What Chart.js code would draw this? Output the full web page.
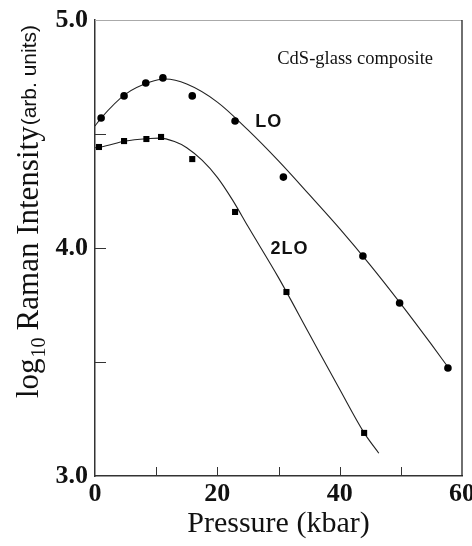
<!DOCTYPE html>
<html>
<head>
<meta charset="utf-8">
<script src="https://cdn.jsdelivr.net/npm/chart.js@4/dist/chart.umd.min.js"></script>
<style>
  body { margin: 0; background: #fff; }
  #wrap { width: 472px; height: 546px; position: relative; }
</style>
</head>
<body>
<div id="wrap"><canvas id="chartRaman"></canvas></div>
<script>
// Data titik LO (lingkaran)
var pressureLO = [1.0, 4.75, 8.3, 11.1, 15.9, 22.9, 30.8, 43.8, 49.8, 57.7];
var intensityLO = [4.57, 4.667, 4.724, 4.746, 4.667, 4.557, 4.311, 3.965, 3.759, 3.474];

// Data titik 2LO (kotak)
var pressure2LO = [0.65, 4.75, 8.4, 10.8, 15.9, 22.9, 31.3, 44.0];
var intensity2LO = [4.443, 4.469, 4.478, 4.487, 4.390, 4.158, 3.807, 3.189];

// Kurva fit
var fitLOx = [0, 1, 5, 9, 11.5, 15, 20, 25, 30, 35, 40, 45, 50, 55, 57.7];
var fitLOy = [4.535, 4.57, 4.675, 4.728, 4.741, 4.719, 4.64, 4.518, 4.382, 4.235, 4.085, 3.925, 3.755, 3.577, 3.478];
var fit2LOx = [0, 1, 5, 9, 10.5, 13, 15, 17.5, 20, 22.5, 25, 30, 35, 40, 44, 46.4];
var fit2LOy = [4.44, 4.443, 4.469, 4.48, 4.482, 4.467, 4.44, 4.385, 4.31, 4.21, 4.095, 3.87, 3.625, 3.38, 3.189, 3.10];

// Tick
var xTickLabels = [0, 20, 40, 60];
var yTickLabels = [3, 4, 5];
var xTickMarks = [10, 20, 30, 40, 50];
var yTickMarks = [3.5, 4.0, 4.5];

// Label di dalam grafik
var annotations = [
    { text: 'CdS-glass composite', x: 29.8, y: 4.829 },
    { text: 'LO', x: 28.4, y: 4.553 },
    { text: '2LO', x: 31.8, y: 3.996 }
];

function toPoints(xs, ys) {
    return xs.map(function (x, i) { return { x: x, y: ys[i] }; });
}

var serif = '"Liberation Serif", "Times New Roman", serif';
var sans = '"Liberation Sans", Arial, sans-serif';

var extrasPlugin = {
    id: 'extras',
    afterDraw: function (chart) {
        var ctx = chart.ctx;
        var a = chart.chartArea;
        var xs = chart.scales.x, ys = chart.scales.y;
        ctx.save();

        // garis atas dan kanan
        ctx.lineWidth = 1;
        ctx.strokeStyle = '#aaa';
        ctx.beginPath(); ctx.moveTo(a.left, a.top + 0.5); ctx.lineTo(a.right, a.top + 0.5); ctx.stroke();
        ctx.strokeStyle = '#222';
        ctx.lineWidth = 1.3;
        ctx.beginPath(); ctx.moveTo(a.right, a.top); ctx.lineTo(a.right, a.bottom); ctx.stroke();

        // tick ke dalam
        ctx.strokeStyle = '#333';
        ctx.lineWidth = 1;
        xTickMarks.forEach(function (v) {
            var px = Math.round(xs.getPixelForValue(v)) + 0.5;
            ctx.beginPath(); ctx.moveTo(px, a.bottom); ctx.lineTo(px, a.bottom - 9); ctx.stroke();
        });
        yTickMarks.forEach(function (v) {
            var py = Math.round(ys.getPixelForValue(v)) + 0.5;
            ctx.beginPath(); ctx.moveTo(a.left, py); ctx.lineTo(a.left + 11, py); ctx.stroke();
        });

        // label dalam grafik
        ctx.fillStyle = '#111';
        ctx.textBaseline = 'middle';
        ctx.textAlign = 'left';
        ctx.font = '18.5px ' + serif;
        var c = annotations[0];
        ctx.fillText(c.text, xs.getPixelForValue(c.x), ys.getPixelForValue(c.y));
        ctx.textAlign = 'center';
        ctx.font = 'bold 18px ' + sans;
        if (ctx.letterSpacing !== undefined) ctx.letterSpacing = '1px';
        for (var i = 1; i < annotations.length; i++) {
            var an = annotations[i];
            ctx.fillText(an.text, xs.getPixelForValue(an.x), ys.getPixelForValue(an.y));
        }
        if (ctx.letterSpacing !== undefined) ctx.letterSpacing = '0px';

        // judul sumbu y
        ctx.translate(38, 398);
        ctx.rotate(-Math.PI / 2);
        ctx.textAlign = 'left';
        ctx.textBaseline = 'alphabetic';
        ctx.fillStyle = '#111';
        var pos = 0;
        ctx.font = '31px ' + serif;
        ctx.fillText('log', pos, 0);
        pos += ctx.measureText('log').width + 1;
        ctx.font = '20px ' + serif;
        ctx.fillText('10', pos, 7);
        pos += ctx.measureText('10').width + 7;
        ctx.font = '31px ' + serif;
        ctx.fillText('Raman Intensity', pos, 0);
        pos += ctx.measureText('Raman Intensity').width + 1;
        ctx.font = '21px ' + sans;
        ctx.fillText('(arb. units)', pos, -2);
        ctx.restore();
    }
};

var ctx1 = document.getElementById('chartRaman').getContext('2d');
new Chart(ctx1, {
    type: 'scatter',
    data: {
        datasets: [
            {
                label: 'LO',
                data: toPoints(pressureLO, intensityLO),
                pointStyle: 'circle',
                pointRadius: 3.8,
                backgroundColor: '#000',
                borderColor: '#000',
                borderWidth: 0
            },
            {
                label: '2LO',
                data: toPoints(pressure2LO, intensity2LO),
                pointStyle: 'rect',
                pointRadius: 4.3,
                backgroundColor: '#000',
                borderColor: '#000',
                borderWidth: 0
            },
            {
                label: 'LO fit',
                data: toPoints(fitLOx, fitLOy),
                showLine: true,
                pointRadius: 0,
                borderColor: '#222',
                borderWidth: 1.1,
                cubicInterpolationMode: 'monotone'
            },
            {
                label: '2LO fit',
                data: toPoints(fit2LOx, fit2LOy),
                showLine: true,
                pointRadius: 0,
                borderColor: '#222',
                borderWidth: 1.1,
                cubicInterpolationMode: 'monotone'
            }
        ]
    },
    options: {
        responsive: true,
        maintainAspectRatio: false,
        animation: false,
        layout: { padding: { left: 0, top: 20, right: 10, bottom: 0 } },
        plugins: {
            legend: { display: false },
            tooltip: { enabled: false }
        },
        scales: {
            x: {
                type: 'linear',
                min: 0,
                max: 60,
                grid: { display: false, drawTicks: false },
                border: { display: true, color: '#333', width: 1.5 },
                ticks: {
                    stepSize: 10,
                    autoSkip: false,
                    maxRotation: 0,
                    padding: 3,
                    color: '#111',
                    font: { family: serif, size: 26, weight: 'bold' },
                    callback: function (v) { return xTickLabels.indexOf(v) >= 0 ? String(v) : ''; }
                },
                title: {
                    display: true,
                    text: 'Pressure (kbar)',
                    color: '#111',
                    font: { family: serif, size: 30 },
                    padding: { top: 0, bottom: 4 }
                },
                afterFit: function (scale) {
                    scale.height = 70;
                    scale.paddingLeft = 0;
                    scale.paddingRight = 0;
                }
            },
            y: {
                type: 'linear',
                min: 3,
                max: 5,
                grid: { display: false, drawTicks: false },
                border: { display: true, color: '#333', width: 1.5 },
                ticks: {
                    stepSize: 0.5,
                    autoSkip: false,
                    padding: 7,
                    color: '#111',
                    font: { family: serif, size: 26, weight: 'bold' },
                    callback: function (v) { return yTickLabels.indexOf(v) >= 0 ? v.toFixed(1) : ''; }
                },
                afterFit: function (scale) {
                    scale.width = 95;
                    scale.paddingTop = 0;
                    scale.paddingBottom = 0;
                }
            }
        }
    },
    plugins: [extrasPlugin]
});
</script>
</body>
</html>
